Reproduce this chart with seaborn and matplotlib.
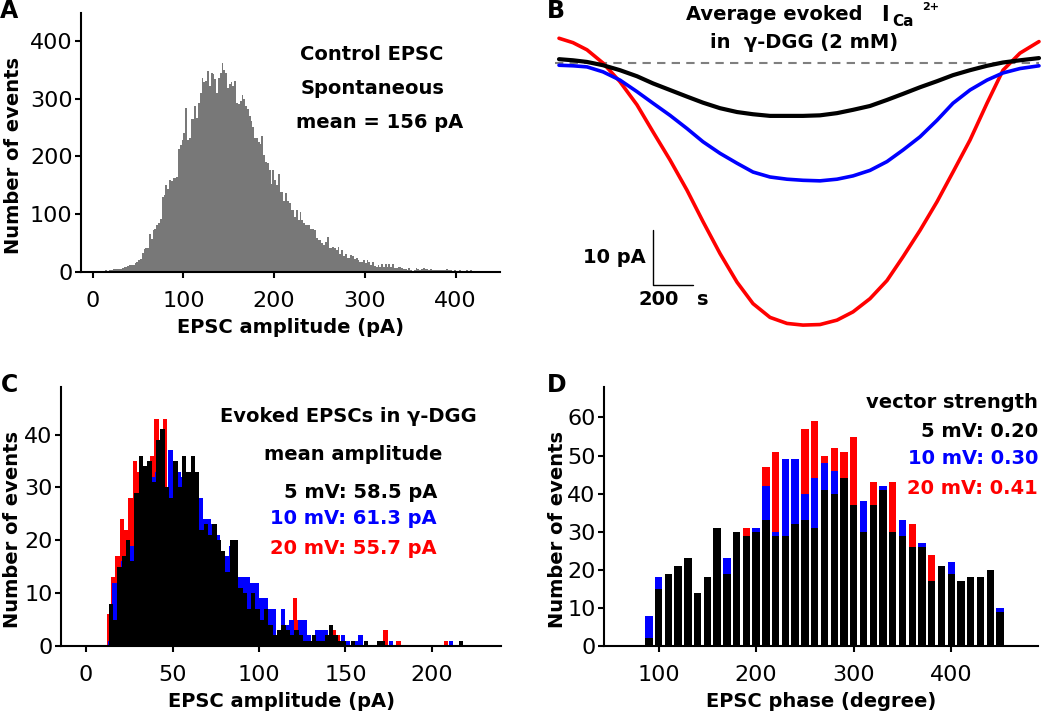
import numpy as np
import pandas as pd
import matplotlib
matplotlib.use("Agg")
import matplotlib.pyplot as plt
import seaborn as sns

# ---------------- data ----------------
# A: spontaneous control EPSC amplitudes, 2 pA bins starting at 0 pA
ctrl_bin_start = 0.0
ctrl_bin_width = 2.0
ctrl_counts = [
    1, 1, 1, 2, 1, 2, 2, 3, 2, 3,
    4, 5, 6, 5, 5, 6, 7, 9, 8, 10,
    12, 12, 12, 16, 17, 21, 22, 33, 39, 42,
    42, 65, 57, 72, 75, 81, 84, 91, 130, 133,
    150, 144, 159, 158, 162, 162, 165, 212, 220, 229,
    240, 284, 229, 232, 264, 264, 288, 267, 293, 310,
    336, 328, 330, 348, 322, 345, 342, 334, 310, 336,
    345, 362, 350, 345, 319, 325, 329, 322, 330, 293,
    290, 296, 307, 300, 287, 282, 270, 262, 250, 231,
    231, 225, 222, 235, 202, 191, 188, 176, 153, 176,
    160, 150, 170, 139, 139, 122, 136, 122, 119, 108,
    108, 96, 108, 90, 104, 90, 84, 81, 81, 81,
    75, 75, 72, 58, 55, 55, 50, 47, 52, 61,
    41, 41, 44, 41, 38, 44, 32, 38, 28, 32,
    24, 24, 30, 27, 22, 24, 21, 18, 18, 20,
    16, 20, 17, 12, 17, 11, 9, 12, 9, 13,
    9, 13, 9, 13, 9, 13, 7, 7, 8, 8,
    7, 6, 5, 3, 7, 3, 2, 3, 7, 6,
    4, 6, 7, 5, 6, 4, 5, 4, 3, 3,
    4, 3, 3, 3, 3, 5, 3, 3, 2, 3,
    2, 2, 3, 2, 2, 2, 3, 2, 3, 2,
    1, 2, 1, 2, 1, 1, 2, 1, 1, 1,
    1, 1, 1, 1, 1,
]

# B: average evoked Ca current traces (time in us, current in pA re. baseline)
trace_time = [0, 70, 140, 220, 305, 390, 470, 555, 640, 720, 805, 890, 970, 1055,
              1140, 1220, 1305, 1390, 1470, 1555, 1640, 1720, 1805, 1890, 1970,
              2055, 2140, 2220, 2305, 2400]
trace_5mv = [0.7, 0.5, 0.2, -0.4, -1.3, -2.4, -3.7, -4.9, -6.1, -7.2, -8.2, -8.9,
             -9.3, -9.6, -9.6, -9.6, -9.5, -9.1, -8.5, -7.8, -6.7, -5.6, -4.4,
             -3.3, -2.2, -1.3, -0.5, 0.1, 0.5, 0.9]
trace_10mv = [-0.4, -0.5, -0.7, -1.6, -3.1, -5.2, -7.3, -9.5, -11.9, -14.3, -16.4,
              -18.2, -19.8, -20.7, -21.1, -21.3, -21.4, -21.1, -20.5, -19.5, -17.9,
              -15.8, -13.4, -10.4, -7.3, -4.9, -3.1, -1.8, -1.0, -0.5]
trace_20mv = [4.5, 3.7, 2.4, 0.0, -3.4, -7.6, -12.5, -17.6, -23.1, -28.8, -34.6,
              -39.8, -43.7, -46.2, -47.3, -47.6, -47.5, -46.7, -45.2, -42.8, -39.5,
              -35.2, -30.4, -25.2, -19.8, -14.0, -7.3, -1.3, 1.8, 3.9]

# C: evoked EPSC amplitudes in gamma-DGG, 2.5 pA bins
evk_bin_width = 2.5
evk_start_20mv = 12.0
evk_start_10mv = 12.5
evk_start_5mv = 13.0
evk_20mv = [6, 13, 17, 24, 22, 28, 35, 33, 34, 30, 36, 43, 30, 43, 28, 30, 32, 30,
            30, 28, 30, 25, 20, 18, 17, 16, 15, 14, 13, 14, 12, 9, 8, 6, 6, 5, 4,
            4, 3, 2, 3, 2, 3, 9, 5, 4, 2, 1, 1, 3, 1, 1, 3, 2, 1, 0, 0, 0, 1, 0,
            0, 0, 0, 0, 3, 0, 0, 1, 0, 0, 0, 0, 0, 0, 0, 0, 0, 0, 1, 0, 0, 0, 0]
evk_10mv = [1, 12, 12, 16, 17, 19, 22, 26, 30, 33, 32, 33, 38, 30, 37, 35, 33, 32,
            31, 31, 30, 28, 24, 24, 23, 21, 18, 17, 19, 19, 13, 13, 13, 12, 12, 9,
            9, 7, 7, 2, 7, 4, 5, 3, 5, 5, 2, 1, 3, 3, 3, 1, 2, 1, 2, 1, 0, 1, 2,
            0, 0, 0, 0, 0, 0, 1, 0, 0, 0, 0, 0, 0, 0, 0, 0, 0, 0, 0, 0, 1, 0, 0, 0]
evk_5mv = [8, 5, 15, 17, 20, 16, 29, 36, 34, 35, 31, 39, 41, 30, 28, 35, 30, 36,
           33, 36, 33, 22, 23, 21, 23, 20, 18, 14, 20, 20, 11, 10, 7, 10, 7, 5, 7,
           4, 2, 3, 4, 3, 2, 3, 2, 1, 1, 2, 1, 1, 2, 4, 2, 1, 1, 0, 1, 0, 0, 1,
           0, 0, 1, 1, 0, 0, 0, 0, 0, 0, 0, 0, 0, 0, 0, 0, 0, 0, 0, 0, 0, 1, 0]

# D: EPSC phase histograms, 10 degree bins
phase_deg = list(range(90, 460, 10))
phase_5mv = [2, 15, 19, 21, 23, 14, 18, 31, 19, 30, 29, 30, 33, 29, 29, 32, 33, 31,
             41, 40, 44, 37, 30, 37, 41, 30, 29, 26, 26, 17, 21, 19, 17, 18, 18, 20, 9]
phase_10mv = [8, 18, 19, 21, 23, 14, 18, 31, 23, 30, 29, 31, 42, 30, 49, 49, 40, 44,
              48, 46, 44, 37, 38, 37, 42, 30, 33, 26, 27, 17, 21, 22, 17, 18, 18, 20, 10]
phase_20mv = [2, 15, 19, 21, 23, 14, 18, 31, 19, 30, 31, 30, 47, 51, 29, 32, 57, 59,
              50, 52, 51, 55, 30, 43, 41, 43, 29, 32, 26, 24, 21, 19, 17, 18, 18, 20, 9]

RED = "#ff0000"
BLUE = "#0000ff"
BLACK = "#000000"
GREY = "#787878"

# ---------------- figure ----------------
sns.set_style("ticks")
plt.rcParams["font.family"] = ["DejaVu Sans"]
plt.rcParams.update({
    "axes.linewidth": 1.5,
    "axes.edgecolor": "black",
    "axes.labelcolor": "black",
    "text.color": "black",
    "xtick.color": "black",
    "ytick.color": "black",
})

W, H = 1050, 714
fig = plt.figure(figsize=(W / 100, H / 100), dpi=100)


def px_axes(left, top, right, bottom):
    return fig.add_axes([left / W, 1 - bottom / H, (right - left) / W, (bottom - top) / H])


def px_text(x, y, s, **kw):
    kw.setdefault("fontweight", "bold")
    kw.setdefault("fontsize", 14)
    kw.setdefault("va", "center")
    fig.text(x / W, 1 - y / H, s, **kw)


def style_axes(ax, ylabel_x):
    sns.despine(ax=ax)
    ax.tick_params(direction="out", length=4, width=1.5, labelsize=16)
    ax.tick_params(axis="x", pad=10)
    ax.tick_params(axis="y", pad=2)
    ax.xaxis.labelpad = 5
    ax.set_xlabel(ax.get_xlabel(), fontsize=14, fontweight="bold")
    ax.set_ylabel(ax.get_ylabel(), fontsize=14, fontweight="bold")
    ax.yaxis.set_label_coords(ylabel_x, 0.45)


def hist_frame(start, width, counts):
    n = len(counts)
    return pd.DataFrame({"x": start + width * (np.arange(n) + 0.5),
                         "n": np.asarray(counts, dtype=float)})


def hist_edges(start, width, counts):
    return list(start + width * np.arange(len(counts) + 1))


# ---- A
axA = px_axes(81, 13, 500, 272)
sns.histplot(data=hist_frame(ctrl_bin_start, ctrl_bin_width, ctrl_counts),
             x="x", weights="n",
             bins=hist_edges(ctrl_bin_start, ctrl_bin_width, ctrl_counts),
             element="step", fill=True, color=GREY, alpha=1, linewidth=0, ax=axA)
axA.set_xlim(-13, 449)
axA.set_ylim(0, 448)
axA.set_xticks([0, 100, 200, 300, 400])
axA.set_yticks([0, 100, 200, 300, 400])
axA.set_xlabel("EPSC amplitude (pA)")
axA.set_ylabel("Number of events")
style_axes(axA, -0.138)

px_text(372, 55, "Control EPSC", ha="center")
px_text(373, 88, "Spontaneous", ha="center")
px_text(380, 122, "mean = 156 pA", ha="center")

# ---- B
axB = px_axes(540, 0, 1045, 335)
axB.hlines(0, trace_time[0] - 20, trace_time[-1], colors="#7f7f7f",
           linestyles=(0, (4, 3)), linewidth=1.5)
for vals, col, lw in [(trace_20mv, RED, 2.6), (trace_10mv, BLUE, 2.6), (trace_5mv, BLACK, 3.0)]:
    sns.lineplot(x=trace_time, y=vals, color=col, linewidth=lw, ax=axB)
axB.set_xlim(-95, 2430)
axB.set_ylim(-49.4, 11.45)
axB.axis("off")
# scale bar: 10 pA, 200 us
axB.plot([470, 470, 670], [-30.4, -40.4, -40.4], color="black", linewidth=1.0)
px_text(646, 257, "10 pA", ha="right", fontsize=14)
px_text(638, 299, "200", ha="left", fontsize=14)
px_text(708, 299, "s", ha="right", fontsize=14)

px_text(863, 15, "Average evoked", ha="right", fontsize=14)
px_text(881, 15, "I", ha="left", fontsize=15)
px_text(892, 21, "Ca", ha="left", fontsize=11)
px_text(922, 7, "2+", ha="left", fontsize=8)
px_text(710, 43, "in  \u03b3-DGG (2 mM)", ha="left", fontsize=14)

# ---- C
axC = px_axes(61, 387, 501, 646)
for start, counts, col in [(evk_start_20mv, evk_20mv, RED),
                           (evk_start_10mv, evk_10mv, BLUE),
                           (evk_start_5mv, evk_5mv, BLACK)]:
    sns.histplot(data=hist_frame(start, evk_bin_width, counts), x="x", weights="n",
                 bins=hist_edges(start, evk_bin_width, counts), element="bars",
                 color=col, alpha=1, linewidth=0, ax=axC)
axC.set_xlim(-14.5, 240)
axC.set_ylim(0, 49)
axC.set_xticks([0, 50, 100, 150, 200])
axC.set_yticks([0, 10, 20, 30, 40])
axC.set_xlabel("EPSC amplitude (pA)")
axC.set_ylabel("Number of events")
style_axes(axC, -0.089)

px_text(348, 417, "Evoked EPSCs in \u03b3-DGG", ha="center")
px_text(353, 454, "mean amplitude", ha="center")
px_text(437, 493, "5 mV: 58.5 pA", ha="right", color=BLACK)
px_text(437, 519, "10 mV: 61.3 pA", ha="right", color=BLUE)
px_text(437, 548, "20 mV: 55.7 pA", ha="right", color=RED)

# ---- D
axD = px_axes(604, 387, 1038, 646)
for counts, col in [(phase_20mv, RED), (phase_10mv, BLUE), (phase_5mv, BLACK)]:
    dfd = pd.DataFrame({"x": phase_deg, "n": np.asarray(counts, dtype=float)})
    sns.histplot(data=dfd, x="x", weights="n", binwidth=10,
                 binrange=(phase_deg[0] - 5, phase_deg[-1] + 5), shrink=0.75,
                 element="bars", color=col, alpha=1, linewidth=0, ax=axD)
axD.set_xlim(44, 489)
axD.set_ylim(0, 68)
axD.set_xticks([100, 200, 300, 400])
axD.set_yticks([0, 10, 20, 30, 40, 50, 60])
axD.set_xlabel("EPSC phase (degree)")
axD.set_ylabel("Number of events")
style_axes(axD, -0.085)

px_text(1038, 403, "vector strength", ha="right")
px_text(1038, 432, "5 mV: 0.20", ha="right", color=BLACK)
px_text(1038, 458, "10 mV: 0.30", ha="right", color=BLUE)
px_text(1038, 488, "20 mV: 0.41", ha="right", color=RED)

# panel letters
px_text(0, 11, "A", ha="left", fontsize=17)
px_text(547, 11, "B", ha="left", fontsize=17)
px_text(1, 385, "C", ha="left", fontsize=17)
px_text(547, 385, "D", ha="left", fontsize=17)

fig.savefig("out.png", dpi=100)
